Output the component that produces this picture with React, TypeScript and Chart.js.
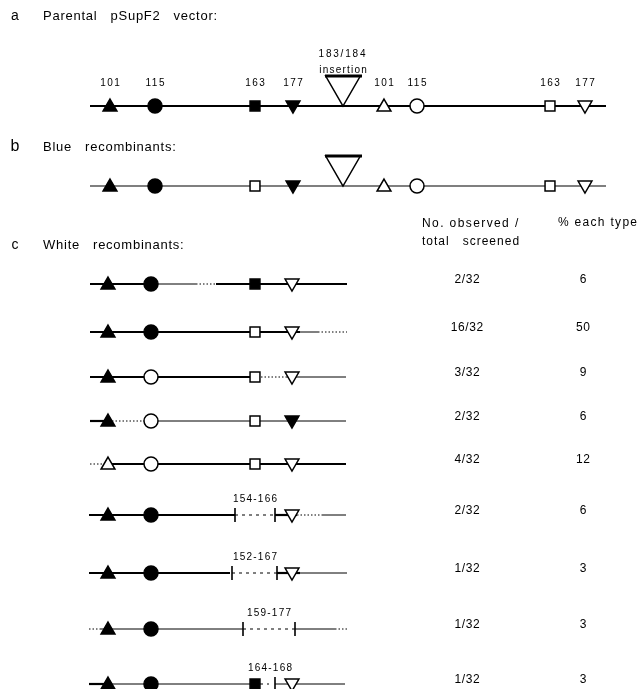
import React, { useEffect, useRef } from "react";
import { Chart, registerables } from "chart.js";
Chart.register(...registerables);

// ---------------- data ----------------
const panelLetters = ["a", "b", "c"];
const panelTitles = ["Parental   pSupF2   vector:", "Blue   recombinants:", "White   recombinants:"];
const siteNumbers = ["101", "115", "163", "177"];
const insertionLabel = ["183/184", "insertion"];
// F = filled (mutant) marker, O = open marker, - = site absent
const parentalSites = ["FFFF", "OOOO"];
const blueSites = ["FFOF", "OOOO"];
const whiteSites = ["FFFO", "FFOO", "FOOO", "FOOF", "OOOO", "FF-O", "FF-O", "FF--", "FFFO"];
const observed = [2, 16, 3, 2, 4, 2, 1, 1, 1];
const totalScreened = 32;
const percentEach = [6, 50, 9, 6, 12, 6, 3, 3, 3];
const deletionLabels = ["", "", "", "", "", "154-166", "152-167", "159-177", "164-168"];
const countHeader = ["No. observed /", "total   screened"];
const percentHeader = "% each type";

// ---------------- layout (diagram coordinates) ----------------
const W = 640;
const H = 689;
const leftX = [110, 155, 255, 293];
const rightX = [384, 417, 550, 585];
const whiteX = [108, 151, 255, 292];
const insertX = 343;
const rowA = 106;
const rowB = 186;
const whiteRows = [284, 332, 377, 421, 464, 515, 573, 629, 684];
type Seg = [number, number, string];
const whiteSegments: Seg[][] = [
  [[90, 152, "thick"], [152, 196, "thin"], [196, 216, "dot"], [216, 347, "thick"]],
  [[90, 300, "thick"], [300, 318, "thin"], [318, 347, "dot"]],
  [[90, 254, "thick"], [254, 286, "dot"], [286, 346, "thin"]],
  [[90, 112, "thick"], [112, 145, "dot"], [145, 346, "thin"]],
  [[90, 104, "dot"], [104, 346, "thick"]],
  [[89, 235, "thick"], [235, 275, "dash"], [275, 297, "thick"], [297, 323, "dot"], [323, 346, "thin"]],
  [[89, 230, "thick"], [232, 277, "dash"], [277, 300, "thick"], [300, 347, "thin"]],
  [[89, 100, "dot"], [100, 243, "thin"], [243, 295, "dash"], [295, 335, "thin"], [335, 347, "dot"]],
  [[89, 112, "thick"], [112, 253, "thin"], [260, 269, "dash"], [275, 345, "thin"]],
];
const whiteTicks: number[][] = [[], [], [], [], [], [235, 275], [232, 277], [243, 295], [275]];
const deletionLabelX = [0, 0, 0, 0, 0, 255, 255, 269, 270];

const segStyle: Record<string, { w: number; dash: number[] }> = {
  thick: { w: 2.2, dash: [] },
  thin: { w: 1, dash: [] },
  dash: { w: 1.2, dash: [3, 4] },
  dot: { w: 1, dash: [1.5, 2] },
};
const shapes = ["triangle", "circle", "rect", "triangle"];
const rotations = [0, 0, 0, 180];
const radii = [8, 7, 7, 8];
const yOffsets = [1, 0, 0, -1];

function lineDs(pts: { x: number; y: number }[], w: number, dash: number[] = []) {
  return {
    data: pts,
    showLine: true,
    borderColor: "#000",
    borderWidth: w,
    borderDash: dash,
    pointRadius: 0,
    fill: false,
    clip: false,
    order: 2,
  };
}

function buildDatasets() {
  const ds: any[] = [];
  const groups: Record<string, { x: number; y: number }[]> = {};
  const addMarkers = (xs: number[], y: number, code: string) => {
    for (let i = 0; i < code.length; i++) {
      const c = code[i];
      if (c === "-") continue;
      const key = i + c;
      (groups[key] = groups[key] || []).push({ x: xs[i], y: y + yOffsets[i] });
    }
  };
  addMarkers(leftX, rowA, parentalSites[0]);
  addMarkers(rightX, rowA, parentalSites[1]);
  addMarkers(leftX, rowB, blueSites[0]);
  addMarkers(rightX, rowB, blueSites[1]);
  whiteSites.forEach((code, r) => addMarkers(whiteX, whiteRows[r], code));

  Object.keys(groups).forEach((key) => {
    const i = Number(key[0]);
    const filled = key[1] === "F";
    ds.push({
      data: groups[key],
      pointStyle: shapes[i],
      rotation: rotations[i],
      pointRadius: radii[i],
      pointBackgroundColor: filled ? "#000" : "#fff",
      pointBorderColor: "#000",
      pointBorderWidth: 1.5,
      showLine: false,
      clip: false,
      order: 0,
    });
  });

  ds.push(lineDs([{ x: 90, y: rowA }, { x: 606, y: rowA }], 2));
  ds.push(lineDs([{ x: 90, y: rowB }, { x: 606, y: rowB }], 1.2));

  const triR = 20;
  [rowA, rowB].forEach((row) => {
    const cy = row - triR;
    ds.push({
      data: [{ x: insertX, y: cy }],
      pointStyle: "triangle",
      rotation: 180,
      pointRadius: triR,
      pointBackgroundColor: "#fff",
      pointBorderColor: "#000",
      pointBorderWidth: 1.5,
      showLine: false,
      clip: false,
      order: 1,
    });
    const top = cy - triR / 2;
    ds.push({ ...lineDs([{ x: insertX - 18, y: top }, { x: insertX + 19, y: top }], 3.2), order: 0 });
  });

  whiteSegments.forEach((segs, r) => {
    const y = whiteRows[r];
    segs.forEach(([x0, x1, s]) => {
      ds.push(lineDs([{ x: x0, y }, { x: x1, y }], segStyle[s].w, segStyle[s].dash));
    });
    whiteTicks[r].forEach((tx) => {
      ds.push(lineDs([{ x: tx, y: y - 7 }, { x: tx, y: y + 7 }], 1.6));
    });
  });
  return ds;
}

type T = { text: string; x: number; y: number; size: number; align: CanvasTextAlign; sp?: number };
function buildTexts(): T[] {
  const t: T[] = [];
  const letterY = [16, 147, 245];
  const letterSize = [14, 16, 14];
  panelLetters.forEach((l, i) => t.push({ text: l, x: 15, y: letterY[i], size: letterSize[i], align: "center" }));
  panelTitles.forEach((s, i) => t.push({ text: s, x: 43, y: letterY[i], size: 13, align: "left", sp: 0.75 }));
  siteNumbers.forEach((s, i) => {
    t.push({ text: s, x: leftX[i], y: 83, size: 10, align: "center", sp: 1.5 });
    t.push({ text: s, x: rightX[i], y: 83, size: 10, align: "center", sp: 1.5 });
  });
  t.push({ text: insertionLabel[0], x: 342, y: 54, size: 10, align: "center", sp: 1.8 });
  t.push({ text: insertionLabel[1], x: 343, y: 70, size: 10, align: "center", sp: 1.2 });
  t.push({ text: countHeader[0], x: 422, y: 224, size: 12, align: "left", sp: 1.4 });
  t.push({ text: countHeader[1], x: 422, y: 242, size: 12, align: "left", sp: 1.0 });
  t.push({ text: percentHeader, x: 558, y: 223, size: 12, align: "left", sp: 1.3 });
  whiteRows.forEach((y, r) => {
    t.push({ text: `${observed[r]}/${totalScreened}`, x: 467, y: y - 4, size: 12, align: "center", sp: 0.6 });
    t.push({ text: String(percentEach[r]), x: 583, y: y - 4, size: 12, align: "center", sp: 0.6 });
    if (deletionLabels[r]) {
      t.push({ text: deletionLabels[r], x: deletionLabelX[r], y: y - 16, size: 10, align: "center", sp: 1.2 });
    }
  });
  return t;
}

const textPlugin = {
  id: "diagramText",
  afterDraw(chart: any) {
    const { ctx } = chart;
    const sx = chart.scales.x;
    const sy = chart.scales.y;
    ctx.save();
    ctx.fillStyle = "#000";
    ctx.textBaseline = "middle";
    for (const t of buildTexts()) {
      ctx.font = `${t.size}px "Liberation Sans", Arial, sans-serif`;
      ctx.textAlign = t.align;
      (ctx as any).letterSpacing = `${t.sp ?? 0}px`;
      const shift = t.align === "center" ? (t.sp ?? 0) / 2 : 0;
      ctx.fillText(t.text, sx.getPixelForValue(t.x) + shift, sy.getPixelForValue(t.y));
    }
    ctx.restore();
  },
};

export default function App() {
  const ref = useRef<HTMLCanvasElement>(null);
  useEffect(() => {
    document.body.style.margin = "0";
    const chart = new Chart(ref.current as HTMLCanvasElement, {
      type: "scatter",
      data: { datasets: buildDatasets() },
      options: {
        animation: false,
        responsive: false,
        devicePixelRatio: 1,
        events: [],
        layout: { padding: 0, autoPadding: false },
        plugins: { legend: { display: false }, tooltip: { enabled: false }, title: { display: false } },
        scales: {
          x: { type: "linear", min: 0, max: W, display: false },
          y: { type: "linear", min: 0, max: H, reverse: true, display: false },
        },
      },
      plugins: [textPlugin],
    } as any);
    return () => chart.destroy();
  }, []);
  return (
    <div style={{ width: W, height: H, background: "#fff", position: "relative" }}>
      <canvas ref={ref} width={W} height={H} style={{ display: "block" }} />
    </div>
  );
}
